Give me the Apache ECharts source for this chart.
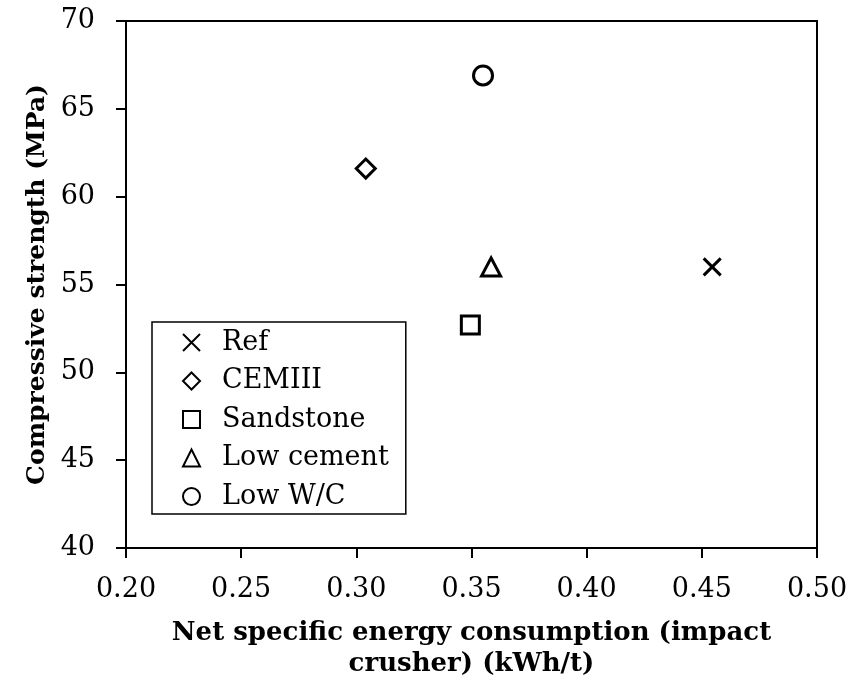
<!DOCTYPE html>
<html><head><meta charset="utf-8">
<script src="https://cdn.jsdelivr.net/npm/echarts@6/dist/echarts.min.js"></script>
<style>html,body{margin:0;padding:0;background:#fff}#c{width:854px;height:689px}</style>
</head><body><div id="c"></div>
<script>
var seriesNames = ['Ref', 'CEMIII', 'Sandstone', 'Low cement', 'Low W/C'];
var energy = [0.4545, 0.3041, 0.3495, 0.3585, 0.355];
var strength = [56.0, 61.6, 52.7, 56.0, 66.9];
var xTicks = ['0.20','0.25','0.30','0.35','0.40','0.45','0.50'];
var yTicks = ['40','45','50','55','60','65','70'];

var symbols = ['path://M0,0L20,20M20,0L0,20', 'diamond', 'rect', 'triangle', 'circle'];
var sizes = [[17,17],[19,19],[18,18],[19,18],[19,19]];
var FONT = 'DejaVu Serif';

var series = seriesNames.map(function(n, i){
  return {
    name: n, type: 'scatter',
    symbol: symbols[i], symbolSize: sizes[i],
    itemStyle: {color: 'rgba(255,255,255,0)', borderColor: '#000', borderWidth: 3, opacity: 1},
    data: [[energy[i], strength[i]]]
  };
});

var chart = echarts.init(document.getElementById('c'), null, {renderer: 'canvas'});
chart.setOption({
  animation: false,
  backgroundColor: '#fff',
  grid: {left: 126, top: 21, right: 37, bottom: 141, show: true, borderColor: '#000', borderWidth: 2},
  legend: {
    orient: 'vertical', left: 152, top: 322,
    data: seriesNames,
    itemWidth: 17, itemHeight: 17, itemGap: 11.5,
    padding: [7, 17, 4, 30],
    borderColor: '#000', borderWidth: 1.5,
    textStyle: {fontFamily: FONT, fontSize: 27, color: '#000', padding: [0,0,0,17]},
    inactiveColor: '#000'
  },
  xAxis: {
    type: 'value', min: 0.2, max: 0.5, interval: 0.05,
    name: 'Net specific energy consumption (impact\ncrusher) (kWh/t)',
    nameLocation: 'middle', nameGap: 70,
    nameTextStyle: {fontFamily: FONT, fontSize: 26, fontWeight: 'bold', color: '#000', lineHeight: 31},
    axisLine: {show: true, lineStyle: {color: '#000', width: 2}},
    axisTick: {show: true, length: 10, lineStyle: {color: '#000', width: 2}},
    axisLabel: {fontFamily: FONT, fontSize: 27, color: '#000', margin: 28,
      formatter: function(v){ var s = v.toFixed(2); return xTicks.indexOf(s) >= 0 ? s : ''; }},
    splitLine: {show: false}
  },
  yAxis: {
    type: 'value', min: 40, max: 70, interval: 5,
    name: 'Compressive strength (MPa)',
    nameLocation: 'middle', nameRotate: 90, nameGap: 75,
    nameTextStyle: {fontFamily: FONT, fontSize: 25, fontWeight: 'bold', color: '#000'},
    axisLine: {show: true, lineStyle: {color: '#000', width: 2}},
    axisTick: {show: true, length: 10, lineStyle: {color: '#000', width: 2}},
    axisLabel: {fontFamily: FONT, fontSize: 27, color: '#000', margin: 31,
      formatter: function(v){ var s = String(Math.round(v)); return yTicks.indexOf(s) >= 0 ? s : ''; }},
    splitLine: {show: false}
  },
  series: series
});
</script></body></html>
